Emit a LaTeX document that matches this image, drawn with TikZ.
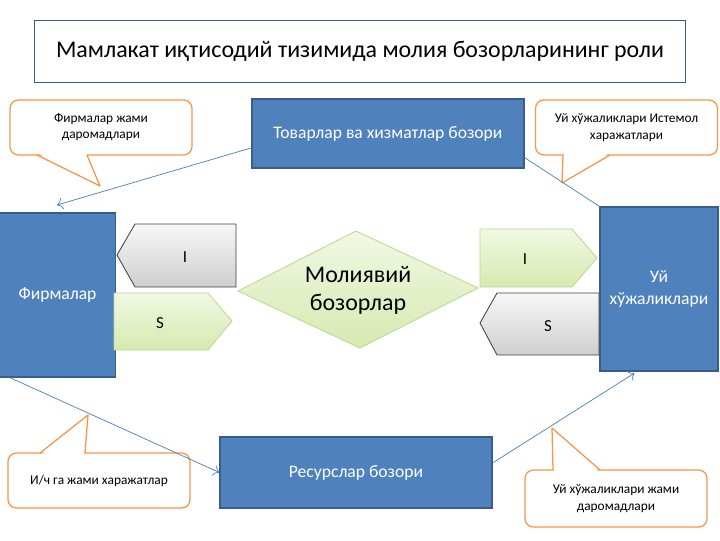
\documentclass[tikz,border=0pt]{standalone}
\usepackage{fontspec}
\setmainfont{Carlito}
\usetikzlibrary{arrows.meta}
\definecolor{boxblue}{HTML}{4F81BD}
\definecolor{boxedge}{HTML}{385D8A}
\definecolor{calloutedge}{HTML}{F79646}
\definecolor{linkblue}{HTML}{4A7EBB}
\definecolor{greenlight}{HTML}{F1F8E4}
\definecolor{greendark}{HTML}{D6EAAF}
\definecolor{greenedge}{HTML}{BDD88F}
\tikzset{
  market/.style={draw=boxedge, fill=boxblue, text=white, line width=0.8pt,
    font=\fontsize{12.5}{15}\selectfont, align=center, inner sep=0pt},
  sector/.style={market, minimum width=2.9cm, minimum height=4.1cm},
  note/.style={draw=calloutedge, fill=white, rounded corners=6pt, line width=0.9pt,
    align=center, font=\fontsize{9.5}{11.5}\selectfont,
    minimum width=4.55cm, minimum height=1.375cm, inner sep=0pt},
  tail/.style={draw=calloutedge, line width=0.9pt, line join=round},
  flow/.style={draw=linkblue, line width=0.5pt, -{To[length=4pt]}},
  graybox/.style={draw=black!75, top color=gray!6, bottom color=gray!38, line width=0.6pt},
  greenbox/.style={draw=greenedge, top color=greenlight, bottom color=greendark, line width=0.6pt},
  letter/.style={font=\fontsize{12}{14}\selectfont}
}
\begin{document}
\begin{tikzpicture}[x=0.025cm, y=-0.025cm]
  \useasboundingbox (0,0) rectangle (720,540);
  % title
  \node[draw=boxedge, line width=0.6pt, minimum width=16.25cm, minimum height=1.55cm,
    font=\fontsize{17}{20}\selectfont] (title) at (360,51)
    {Мамлакат иқтисодий тизимида молия бозорларининг роли};
  % markets and sectors
  \node[market, minimum width=6.8cm, minimum height=1.725cm] (goods) at (388,133.5)
    {Товарлар ва хизматлар бозори};
  \node[market, minimum width=6.8cm, minimum height=1.775cm] (resources) at (356,472.5)
    {Ресурслар бозори};
  \node[sector] (firms) at (57.5,295) {Фирмалар};
  \node[sector, minimum width=2.95cm] (house) at (659,289) {Уй\\хўжаликлари};
  % I and S
  \draw[graybox] (117,255) -- (135,224) -- (236,224) -- (236,287) -- (135,287) -- cycle;
  \draw[greenbox] (114,293) -- (208,293) -- (232,321) -- (208,350) -- (114,350) -- cycle;
  \draw[greenbox] (480,229) -- (572,229) -- (597,258) -- (572,287) -- (480,287) -- cycle;
  \draw[graybox] (480,323) -- (497,293) -- (599,293) -- (599,355) -- (497,355) -- cycle;
  \node[letter] (invleft) at (185,257) {I};
  \node[letter] (savleft) at (160,323) {S};
  \node[letter] (invright) at (525,259) {I};
  \node[letter] (savright) at (548,326) {S};
  % financial markets
  \draw[greenbox] (238,291) -- (356,231) -- (478,288) -- (360,348) -- cycle;
  \node[align=center, font=\fontsize{17}{20}\selectfont] (finance) at (358,290)
    {Молиявий\\бозорлар};
  % callouts
  \node[note] (firmsincome) at (101,127.5) {Фирмалар жами\\даромадлари};
  \node[note] (consumption) at (626.5,127.5) {Уй хўжаликлари Истемол\\харажатлари};
  \node[note] (costs) at (99,480.5) {И/ч га жами харажатлар};
  \node[note, minimum height=1.425cm] (houseincome) at (616,498.5)
    {Уй хўжаликлари жами\\даромадлари};
  \fill[white] (38,153) -- (100,186) -- (86,153) -- cycle;
  \draw[tail] (37,155) -- (100,186) -- (87,155);
  \fill[white] (564,153) -- (562,183) -- (609,153) -- cycle;
  \draw[tail] (563,155) -- (562,183) -- (610,155);
  \fill[white] (41,455) -- (88,415) -- (84,455) -- cycle;
  \draw[tail] (40,453) -- (88,415) -- (85,453);
  \fill[white] (554,472) -- (552,428) -- (599,472) -- cycle;
  \draw[tail] (553,470) -- (552,428) -- (600,470);
  % flows
  \coordinate (firmsin) at (57,205);
  \begin{scope}[flow]
    \draw (goods.186) to (firmsin);
    \draw[-] (goods.-10) to (house.north west);
    \draw (firms.-120) to (resources.west);
    \draw[shorten >=2pt] (resources.4) to (house.-105);
  \end{scope}
\end{tikzpicture}
\end{document}
